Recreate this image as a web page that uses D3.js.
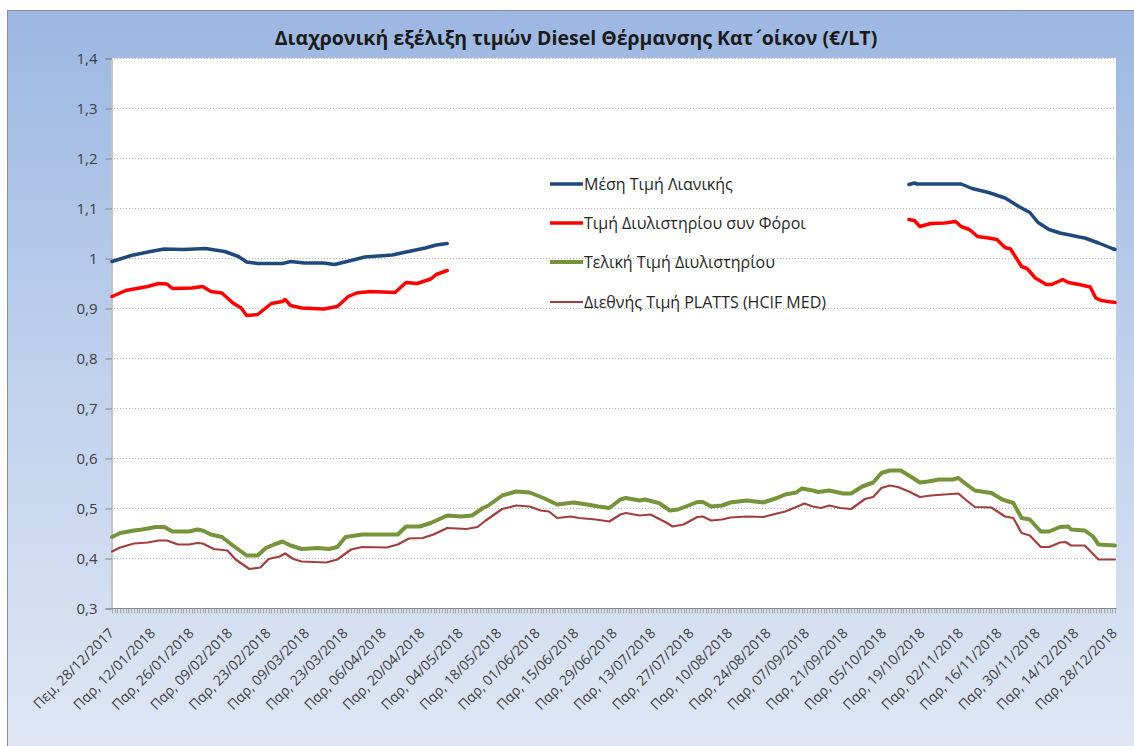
<!DOCTYPE html>
<html>
<head>
<meta charset="utf-8">
<script src="https://cdn.jsdelivr.net/npm/d3@7"></script>
<style>
  body { margin: 0; background: #fff; }
  text { font-family: "Open Sans", "Noto Sans", sans-serif; }
</style>
</head>
<body>
<script>
const width = 1134;
const height = 746;

const titleParts = ["Διαχρονική εξέλιξη τιμών Diesel Θέρμανσης Κατ", "΄", "οίκον (€/LT)"];

const seriesNames = [
  "Μέση Τιμή Λιανικής",
  "Τιμή Διυλιστηρίου συν Φόροι",
  "Τελική Τιμή Διυλιστηρίου",
  "Διεθνής Τιμή PLATTS (HCIF MED)"
];
const seriesColors = ["#1f497d", "#ff0000", "#77933c", "#a0403e"];
const seriesWidths = [3.5, 3.5, 4, 2.2];

// y axis ticks
const yTicks = [0.3, 0.4, 0.5, 0.6, 0.7, 0.8, 0.9, 1.0, 1.1, 1.2, 1.3, 1.4];

// x axis labelled dates
const xLabelDates = [
  "2017-12-28", "2018-01-12", "2018-01-26", "2018-02-09", "2018-02-23",
  "2018-03-09", "2018-03-23", "2018-04-06", "2018-04-20", "2018-05-04",
  "2018-05-18", "2018-06-01", "2018-06-15", "2018-06-29", "2018-07-13",
  "2018-07-27", "2018-08-10", "2018-08-24", "2018-09-07", "2018-09-21",
  "2018-10-05", "2018-10-19", "2018-11-02", "2018-11-16", "2018-11-30",
  "2018-12-14", "2018-12-28"
];

// Μέση Τιμή Λιανικής (null = no sales outside heating season)
const retail = [
  ["2017-12-28", 0.993], ["2018-01-04", 1.005], ["2018-01-11", 1.013], ["2018-01-16", 1.018],
  ["2018-01-23", 1.017], ["2018-01-31", 1.019], ["2018-02-07", 1.013], ["2018-02-12", 1.003],
  ["2018-02-15", 0.992], ["2018-02-19", 0.989], ["2018-02-28", 0.989], ["2018-03-03", 0.993],
  ["2018-03-08", 0.990], ["2018-03-15", 0.990], ["2018-03-19", 0.987], ["2018-03-25", 0.995],
  ["2018-03-30", 1.002], ["2018-04-09", 1.006], ["2018-04-14", 1.012], ["2018-04-21", 1.020],
  ["2018-04-25", 1.026], ["2018-04-29", 1.029],
  ["2018-07-01", null],
  ["2018-10-14", 1.147], ["2018-10-16", 1.150], ["2018-10-17", 1.148], ["2018-11-02", 1.148],
  ["2018-11-06", 1.139], ["2018-11-12", 1.131], ["2018-11-18", 1.120], ["2018-11-23", 1.103],
  ["2018-11-27", 1.091], ["2018-11-30", 1.071], ["2018-12-04", 1.057], ["2018-12-08", 1.050],
  ["2018-12-15", 1.042], ["2018-12-17", 1.040], ["2018-12-22", 1.030], ["2018-12-27", 1.019],
  ["2018-12-28", 1.017]
];

// Τιμή Διυλιστηρίου συν Φόροι
const refineryTax = [
  ["2017-12-28", 0.923], ["2018-01-02", 0.935], ["2018-01-06", 0.939], ["2018-01-10", 0.943],
  ["2018-01-14", 0.949], ["2018-01-17", 0.948], ["2018-01-19", 0.939], ["2018-01-26", 0.940],
  ["2018-01-30", 0.943], ["2018-02-02", 0.933], ["2018-02-06", 0.930], ["2018-02-10", 0.910],
  ["2018-02-13", 0.900], ["2018-02-15", 0.885], ["2018-02-19", 0.887], ["2018-02-24", 0.909],
  ["2018-02-28", 0.913], ["2018-03-01", 0.917], ["2018-03-03", 0.905], ["2018-03-07", 0.900],
  ["2018-03-15", 0.898], ["2018-03-20", 0.903], ["2018-03-24", 0.923], ["2018-03-27", 0.930],
  ["2018-04-01", 0.933], ["2018-04-10", 0.931], ["2018-04-14", 0.951], ["2018-04-18", 0.949],
  ["2018-04-23", 0.958], ["2018-04-25", 0.967], ["2018-04-29", 0.975],
  ["2018-07-01", null],
  ["2018-10-14", 1.077], ["2018-10-16", 1.075], ["2018-10-18", 1.063], ["2018-10-22", 1.069],
  ["2018-10-27", 1.070], ["2018-10-31", 1.073], ["2018-11-02", 1.063], ["2018-11-05", 1.057],
  ["2018-11-08", 1.043], ["2018-11-12", 1.040], ["2018-11-15", 1.037], ["2018-11-18", 1.021],
  ["2018-11-20", 1.018], ["2018-11-24", 0.983], ["2018-11-26", 0.979], ["2018-11-29", 0.960],
  ["2018-12-03", 0.947], ["2018-12-05", 0.947], ["2018-12-09", 0.957], ["2018-12-11", 0.951],
  ["2018-12-15", 0.947], ["2018-12-19", 0.942], ["2018-12-21", 0.920], ["2018-12-23", 0.915],
  ["2018-12-28", 0.911]
];

// Τελική Τιμή Διυλιστηρίου
const refineryFinal = [
  ["2017-12-28", 0.442], ["2017-12-31", 0.450], ["2018-01-05", 0.455], ["2018-01-08", 0.457],
  ["2018-01-13", 0.462], ["2018-01-16", 0.462], ["2018-01-19", 0.453], ["2018-01-25", 0.453],
  ["2018-01-28", 0.457], ["2018-01-30", 0.455], ["2018-02-02", 0.447], ["2018-02-06", 0.442],
  ["2018-02-10", 0.425], ["2018-02-15", 0.405], ["2018-02-19", 0.405], ["2018-02-22", 0.420],
  ["2018-02-25", 0.427], ["2018-02-28", 0.433], ["2018-03-03", 0.425], ["2018-03-07", 0.418],
  ["2018-03-13", 0.420], ["2018-03-17", 0.418], ["2018-03-20", 0.422], ["2018-03-23", 0.442],
  ["2018-03-29", 0.447], ["2018-04-05", 0.447], ["2018-04-11", 0.447], ["2018-04-14", 0.463],
  ["2018-04-19", 0.463], ["2018-04-23", 0.470], ["2018-04-29", 0.485], ["2018-05-04", 0.483],
  ["2018-05-08", 0.485], ["2018-05-12", 0.500], ["2018-05-14", 0.505], ["2018-05-19", 0.525],
  ["2018-05-24", 0.533], ["2018-05-29", 0.531], ["2018-06-03", 0.520], ["2018-06-08", 0.507],
  ["2018-06-14", 0.511], ["2018-06-19", 0.507], ["2018-06-23", 0.503], ["2018-06-27", 0.500],
  ["2018-07-01", 0.517], ["2018-07-03", 0.520], ["2018-07-08", 0.515], ["2018-07-10", 0.517],
  ["2018-07-15", 0.510], ["2018-07-19", 0.495], ["2018-07-22", 0.497], ["2018-07-29", 0.512],
  ["2018-07-31", 0.512], ["2018-08-03", 0.503], ["2018-08-07", 0.505], ["2018-08-10", 0.511],
  ["2018-08-16", 0.515], ["2018-08-22", 0.511], ["2018-08-27", 0.520], ["2018-08-30", 0.527],
  ["2018-09-03", 0.531], ["2018-09-05", 0.539], ["2018-09-09", 0.535], ["2018-09-11", 0.532],
  ["2018-09-15", 0.535], ["2018-09-20", 0.529], ["2018-09-23", 0.529], ["2018-09-27", 0.543],
  ["2018-10-01", 0.551], ["2018-10-04", 0.570], ["2018-10-07", 0.575], ["2018-10-11", 0.575],
  ["2018-10-14", 0.565], ["2018-10-18", 0.551], ["2018-10-21", 0.553], ["2018-10-25", 0.557],
  ["2018-10-30", 0.557], ["2018-11-01", 0.560], ["2018-11-04", 0.547], ["2018-11-07", 0.535],
  ["2018-11-13", 0.530], ["2018-11-17", 0.517], ["2018-11-21", 0.510], ["2018-11-24", 0.480],
  ["2018-11-27", 0.477], ["2018-12-01", 0.453], ["2018-12-04", 0.453], ["2018-12-08", 0.462],
  ["2018-12-11", 0.463], ["2018-12-12", 0.457], ["2018-12-17", 0.455], ["2018-12-20", 0.443],
  ["2018-12-22", 0.427], ["2018-12-28", 0.425]
];

// Διεθνής Τιμή PLATTS (HCIF MED)
const platts = [
  ["2017-12-28", 0.413], ["2017-12-31", 0.421], ["2018-01-05", 0.429], ["2018-01-10", 0.431],
  ["2018-01-14", 0.435], ["2018-01-17", 0.435], ["2018-01-21", 0.427], ["2018-01-25", 0.427],
  ["2018-01-28", 0.430], ["2018-01-30", 0.429], ["2018-02-03", 0.418], ["2018-02-08", 0.415],
  ["2018-02-11", 0.397], ["2018-02-16", 0.378], ["2018-02-20", 0.381], ["2018-02-23", 0.398],
  ["2018-02-27", 0.403], ["2018-03-01", 0.409], ["2018-03-04", 0.398], ["2018-03-07", 0.393],
  ["2018-03-16", 0.391], ["2018-03-20", 0.397], ["2018-03-25", 0.417], ["2018-03-29", 0.422],
  ["2018-04-07", 0.421], ["2018-04-11", 0.427], ["2018-04-15", 0.439], ["2018-04-20", 0.440],
  ["2018-04-24", 0.447], ["2018-04-29", 0.460], ["2018-05-06", 0.458], ["2018-05-10", 0.462],
  ["2018-05-13", 0.475], ["2018-05-19", 0.498], ["2018-05-24", 0.505], ["2018-05-29", 0.503],
  ["2018-06-02", 0.495], ["2018-06-05", 0.493], ["2018-06-08", 0.480], ["2018-06-13", 0.483],
  ["2018-06-16", 0.480], ["2018-06-22", 0.477], ["2018-06-27", 0.473], ["2018-07-01", 0.487],
  ["2018-07-03", 0.490], ["2018-07-08", 0.485], ["2018-07-12", 0.487], ["2018-07-18", 0.470],
  ["2018-07-20", 0.463], ["2018-07-24", 0.467], ["2018-07-29", 0.482], ["2018-07-31", 0.483],
  ["2018-08-03", 0.475], ["2018-08-07", 0.477], ["2018-08-10", 0.481], ["2018-08-16", 0.483],
  ["2018-08-22", 0.482], ["2018-08-27", 0.489], ["2018-08-30", 0.493], ["2018-09-03", 0.502],
  ["2018-09-06", 0.509], ["2018-09-09", 0.503], ["2018-09-12", 0.500], ["2018-09-15", 0.505],
  ["2018-09-19", 0.500], ["2018-09-23", 0.498], ["2018-09-28", 0.518], ["2018-10-01", 0.522],
  ["2018-10-04", 0.540], ["2018-10-07", 0.545], ["2018-10-10", 0.542], ["2018-10-14", 0.533],
  ["2018-10-18", 0.522], ["2018-10-22", 0.525], ["2018-10-27", 0.527], ["2018-11-01", 0.529],
  ["2018-11-04", 0.515], ["2018-11-07", 0.502], ["2018-11-13", 0.501], ["2018-11-18", 0.483],
  ["2018-11-21", 0.480], ["2018-11-24", 0.450], ["2018-11-27", 0.445], ["2018-12-01", 0.422],
  ["2018-12-04", 0.422], ["2018-12-08", 0.431], ["2018-12-10", 0.432], ["2018-12-12", 0.425],
  ["2018-12-17", 0.425], ["2018-12-22", 0.397], ["2018-12-28", 0.397]
];

const allSeries = [retail, refineryTax, refineryFinal, platts];

const parseDate = d3.timeParse("%Y-%m-%d");
const greek = d3.timeFormatLocale({
  dateTime: "%a, %d/%m/%Y", date: "%d/%m/%Y", time: "%H:%M:%S",
  periods: ["πμ", "μμ"],
  days: ["Κυριακή", "Δευτέρα", "Τρίτη", "Τετάρτη", "Πέμπτη", "Παρασκευή", "Σάββατο"],
  shortDays: ["Κυρ", "Δευ", "Τρι", "Τετ", "Πεμ", "Παρ", "Σαβ"],
  months: ["Ιανουάριος", "Φεβρουάριος", "Μάρτιος", "Απρίλιος", "Μάιος", "Ιούνιος",
           "Ιούλιος", "Αύγουστος", "Σεπτέμβριος", "Οκτώβριος", "Νοέμβριος", "Δεκέμβριος"],
  shortMonths: ["Ιαν", "Φεβ", "Μαρ", "Απρ", "Μαϊ", "Ιουν", "Ιουλ", "Αυγ", "Σεπ", "Οκτ", "Νοε", "Δεκ"]
});
const labelFormat = greek.format("%a, %d/%m/%Y");

const plot = { left: 111, right: 1116, top: 58, bottom: 608 };

const svg = d3.select("body").append("svg")
  .attr("width", width)
  .attr("height", height);

// chart background
const defs = svg.append("defs");
const grad = defs.append("linearGradient")
  .attr("id", "bg")
  .attr("x1", 0).attr("y1", 0).attr("x2", 0).attr("y2", 1);
grad.append("stop").attr("offset", "0%").attr("stop-color", "#9cb7e2");
grad.append("stop").attr("offset", "55%").attr("stop-color", "#c4d4ee");
grad.append("stop").attr("offset", "100%").attr("stop-color", "#dfe7f4");

svg.append("rect")
  .attr("x", 7.5).attr("y", 10.5)
  .attr("width", width).attr("height", height)
  .attr("fill", "url(#bg)")
  .attr("stroke", "#8c8c8c");

svg.append("rect")
  .attr("x", plot.left).attr("y", plot.top)
  .attr("width", plot.right - plot.left).attr("height", plot.bottom - plot.top)
  .attr("fill", "#fff");

// scales
const x = d3.scaleTime()
  .domain([parseDate("2017-12-28"), parseDate("2018-12-28")])
  .range([plot.left + 1, plot.right - 1]);

const y = d3.scaleLinear()
  .domain([0.3, 1.4])
  .range([plot.bottom, plot.top]);

// gridlines
svg.append("g")
  .selectAll("line")
  .data(yTicks.filter(d => d > 0.3))
  .join("line")
  .attr("x1", plot.left).attr("x2", plot.right)
  .attr("y1", d => Math.round(y(d)) + 0.5).attr("y2", d => Math.round(y(d)) + 0.5)
  .attr("stroke", "#b8b8b8")
  .attr("stroke-dasharray", "1,2");

// y axis
const yAxis = d3.axisLeft(y)
  .tickValues(yTicks)
  .tickSize(6)
  .tickPadding(8)
  .tickFormat(d => d === 1 ? "1" : d3.format(".1f")(d).replace(".", ","));

const yG = svg.append("g")
  .attr("transform", `translate(${plot.left + 0.5},0.5)`)
  .call(yAxis);
yG.selectAll("line").attr("stroke", "#868686");
yG.select(".domain").attr("stroke", "#868686");
yG.selectAll("text")
  .attr("font-size", 15)
  .attr("fill", "#404040");

// x axis: daily tick marks
const xTickDates = d3.timeDay.range(x.domain()[0], d3.timeDay.offset(x.domain()[1], 1));
const xG = svg.append("g")
  .attr("transform", `translate(0.5,${plot.bottom + 0.5})`);
xG.append("line")
  .attr("x1", plot.left).attr("x2", plot.right)
  .attr("stroke", "#868686");
xG.selectAll("line.tick")
  .data(xTickDates)
  .join("line")
  .classed("tick", true)
  .attr("x1", d => Math.round(x(d))).attr("x2", d => Math.round(x(d)))
  .attr("y1", 0).attr("y2", 5)
  .attr("stroke", "#9a9a9a")
  .attr("stroke-width", 0.8);

xG.selectAll("text")
  .data(xLabelDates.map(parseDate))
  .join("text")
  .attr("transform", d => `translate(${x(d) - 1},${22}) rotate(-45)`)
  .attr("text-anchor", "end")
  .attr("dy", "0.35em")
  .attr("font-size", 14)
  .attr("fill", "#404040")
  .text(d => labelFormat(d));

// lines
const line = d3.line()
  .defined(d => d[1] != null)
  .x(d => x(parseDate(d[0])))
  .y(d => y(d[1]));

svg.append("g")
  .selectAll("path")
  .data(allSeries)
  .join("path")
  .attr("d", line)
  .attr("fill", "none")
  .attr("stroke", (d, i) => seriesColors[i])
  .attr("stroke-width", (d, i) => seriesWidths[i])
  .attr("stroke-linejoin", "round")
  .attr("stroke-linecap", "round");

// legend
const legendYs = [184, 223, 262, 302];
const legend = svg.append("g")
  .selectAll("g")
  .data(seriesNames)
  .join("g")
  .attr("transform", (d, i) => `translate(550,${legendYs[i]})`);
legend.append("line")
  .attr("x1", 0).attr("x2", 33)
  .attr("stroke", (d, i) => seriesColors[i])
  .attr("stroke-width", (d, i) => seriesWidths[i]);
legend.append("text")
  .attr("x", 34)
  .attr("dy", "0.35em")
  .attr("font-size", 16)
  .attr("fill", "#262626")
  .text(d => d);

// title
const titleText = svg.append("text")
  .attr("x", 576)
  .attr("y", 45)
  .attr("text-anchor", "middle")
  .attr("font-size", 19.5)
  .attr("font-weight", "bold")
  .attr("fill", "#1a1a1a");
titleText.selectAll("tspan")
  .data(titleParts)
  .join("tspan")
  .attr("font-family", (d, i) => i === 1 ? "DejaVu Sans" : null)
  .text(d => d);
</script>
</body>
</html>
